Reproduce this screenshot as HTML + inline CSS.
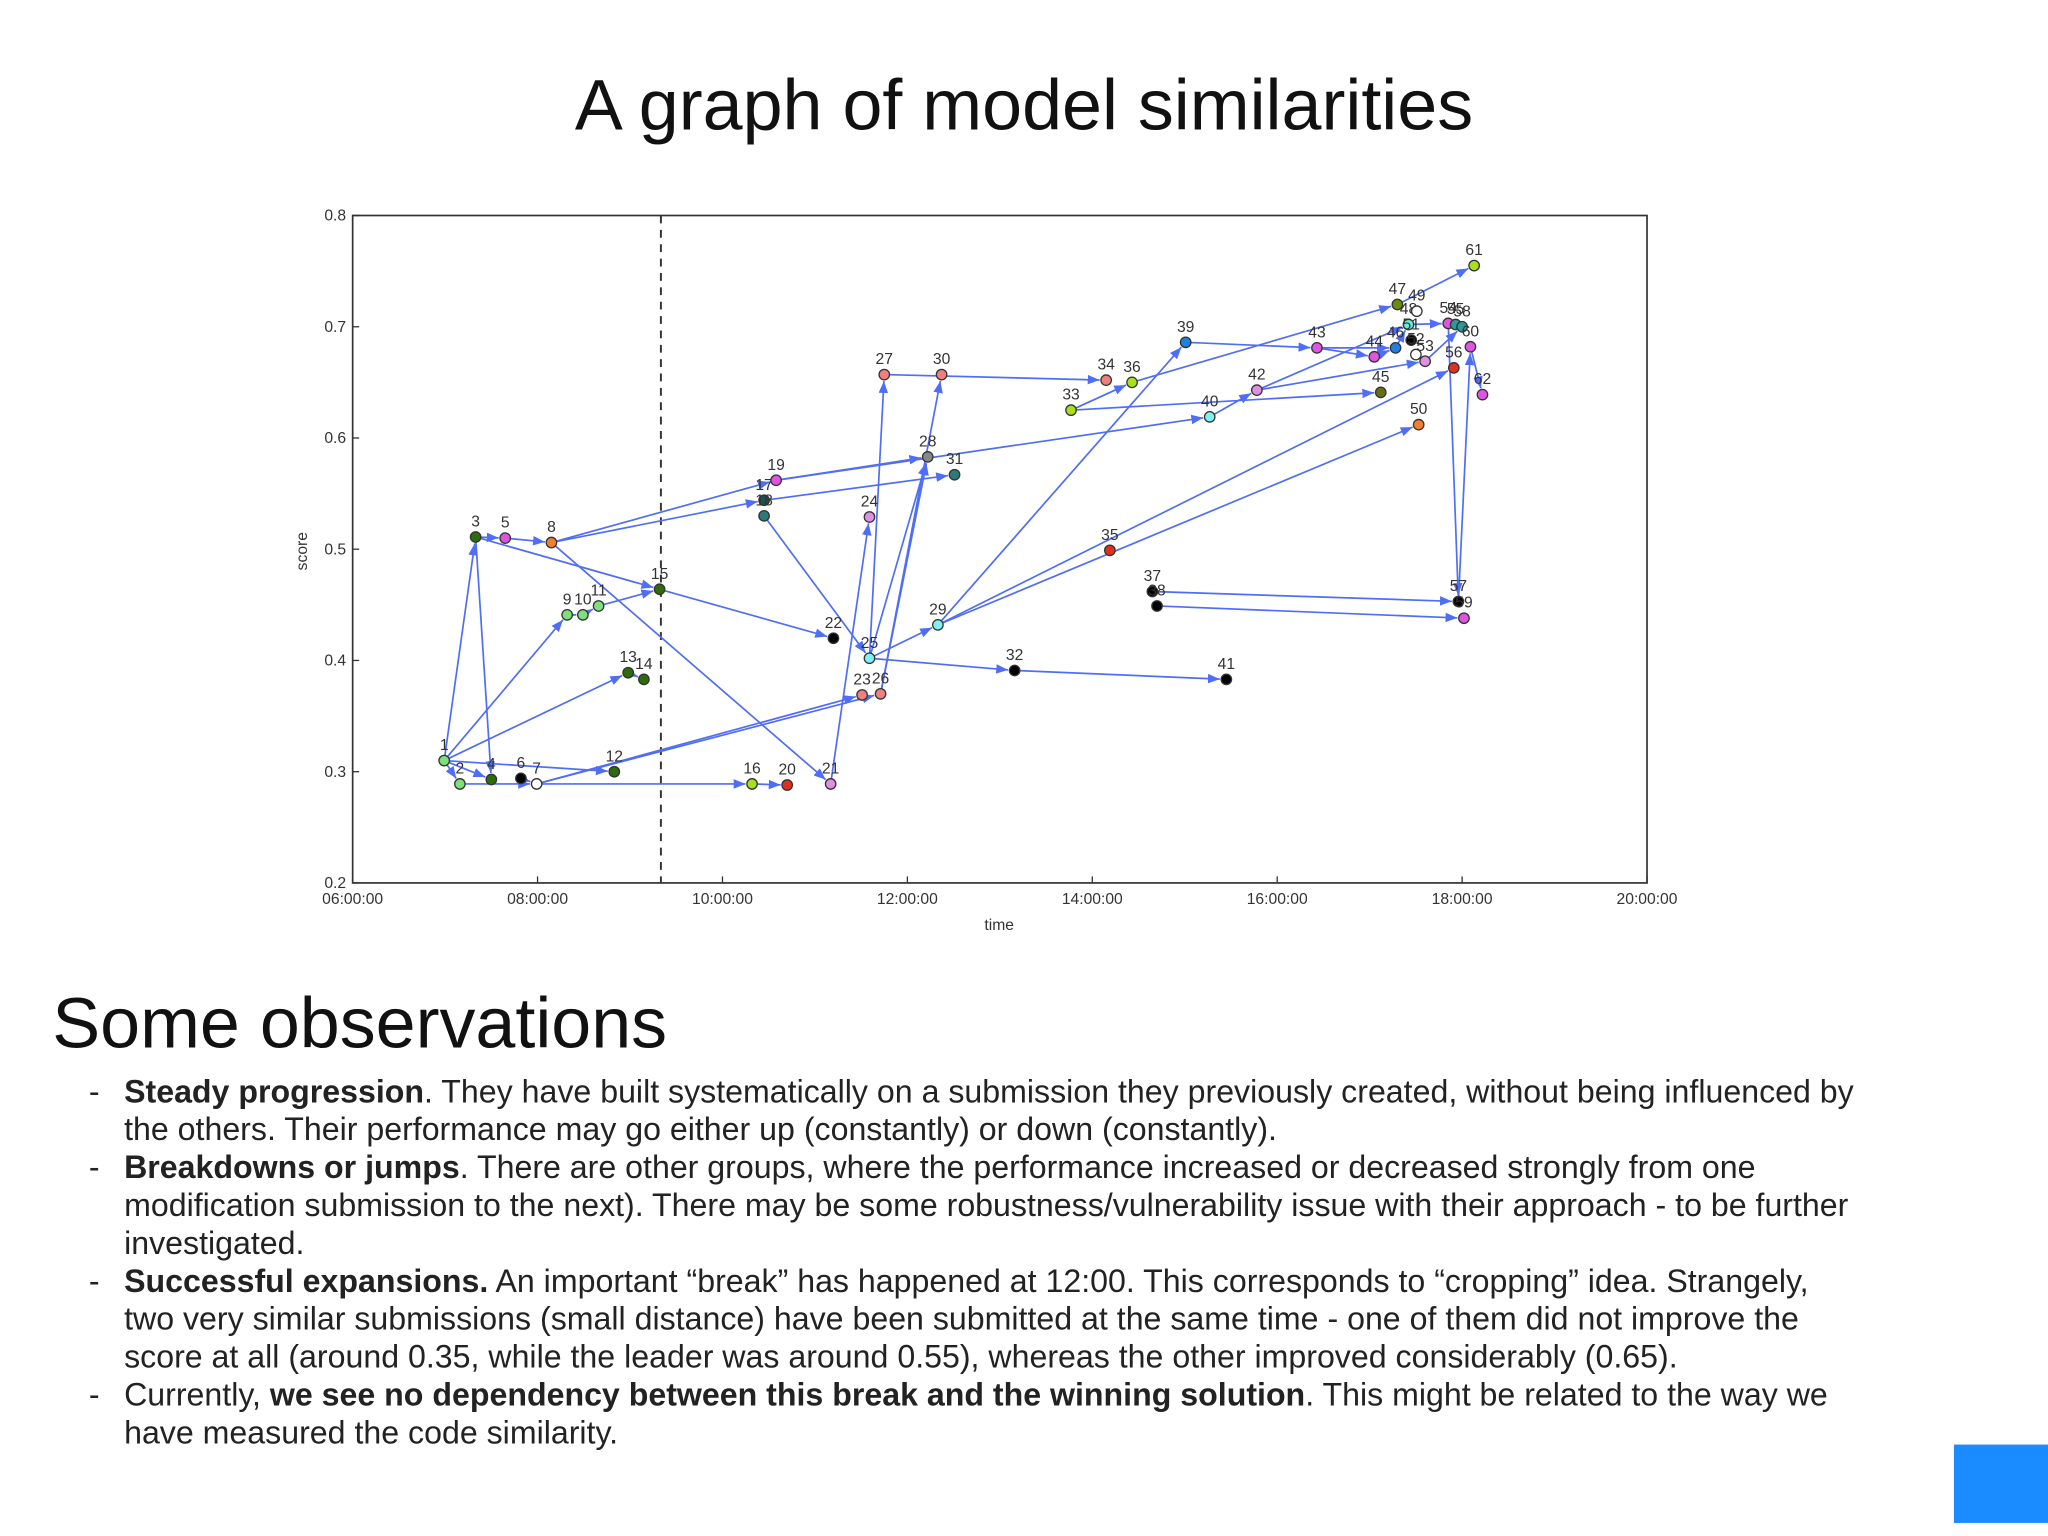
<!DOCTYPE html>
<html><head><meta charset="utf-8"><style>
html,body{margin:0;padding:0;background:#fff;}
svg{display:block;font-family:"Liberation Sans",sans-serif;}
</style></head><body>
<svg id="s" width="2048" height="1536" viewBox="0 0 1568 1176">
<defs><marker id="ah" viewBox="0 0 10 10" refX="10" refY="5" markerWidth="7" markerHeight="7" orient="auto"><path d="M0,1 L10,5 L0,9 z" fill="#4f6ef5"/></marker></defs>
<text x="784" y="99" font-size="55" text-anchor="middle" fill="#111">A graph of model similarities</text>
<rect x="270" y="165" width="991" height="511" fill="#fff" stroke="#333" stroke-width="1.3"/>
<g id="ticks"></g>
<line x1="506" y1="165" x2="506" y2="676" stroke="#333" stroke-width="1.5" stroke-dasharray="6,5"/>
<g id="edges"></g>
<g id="pts"></g>
<text x="765" y="712" font-size="12" text-anchor="middle" fill="#333">time</text>
<text transform="translate(235,422) rotate(-90)" font-size="12" text-anchor="middle" fill="#333">score</text>
<text x="40" y="802" font-size="55" fill="#111">Some observations</text>
<g font-size="24.6" fill="#222">
<text x="68" y="844">-</text><text x="95" y="844"><tspan font-weight="bold">Steady progression</tspan>. They have built systematically on a submission they previously created, without being influenced by</text>
<text x="95" y="873">the others. Their performance may go either up (constantly) or down (constantly).</text>
<text x="68" y="902">-</text><text x="95" y="902"><tspan font-weight="bold">Breakdowns or jumps</tspan>. There are other groups, where the performance increased or decreased strongly from one</text>
<text x="95" y="931">modification submission to the next). There may be some robustness/vulnerability issue with their approach - to be further</text>
<text x="95" y="960">investigated.</text>
<text x="68" y="989">-</text><text x="95" y="989"><tspan font-weight="bold">Successful expansions.</tspan> An important “break” has happened at 12:00. This corresponds to “cropping” idea. Strangely,</text>
<text x="95" y="1018">two very similar submissions (small distance) have been submitted at the same time - one of them did not improve the</text>
<text x="95" y="1047">score at all (around 0.35, while the leader was around 0.55), whereas the other improved considerably (0.65).</text>
<text x="68" y="1076">-</text><text x="95" y="1076">Currently, <tspan font-weight="bold">we see no dependency between this break and the winning solution</tspan>. This might be related to the way we</text>
<text x="95" y="1105">have measured the code similarity.</text>
</g>
<rect x="1496" y="1106" width="72" height="60" fill="#1a8cff"/>
</svg>
<script>
const ids=[1,2,3,4,5,6,7,8,9,10,11,12,13,14,15,16,17,18,19,20,21,22,23,24,25,26,27,28,29,30,31,32,33,34,35,36,37,38,39,40,41,42,43,44,45,46,47,48,49,50,51,52,53,54,55,56,57,58,59,60,61,62];
const times=[6.99,7.16,7.33,7.50,7.65,7.82,7.99,8.15,8.32,8.49,8.66,8.83,8.98,9.15,9.32,10.32,10.45,10.45,10.58,10.70,11.17,11.20,11.51,11.59,11.59,11.71,11.75,12.22,12.33,12.37,12.51,13.16,13.77,14.15,14.19,14.43,14.65,14.70,15.01,15.27,15.45,15.78,16.43,17.05,17.12,17.28,17.30,17.42,17.51,17.53,17.45,17.50,17.60,17.85,17.93,17.91,17.96,18.00,18.02,18.09,18.13,18.22];
const scores=[0.310,0.289,0.511,0.293,0.510,0.294,0.289,0.506,0.441,0.441,0.449,0.300,0.389,0.383,0.464,0.289,0.544,0.530,0.562,0.288,0.289,0.420,0.369,0.529,0.402,0.370,0.657,0.583,0.432,0.657,0.567,0.391,0.625,0.652,0.499,0.650,0.462,0.449,0.686,0.619,0.383,0.643,0.681,0.673,0.641,0.681,0.720,0.702,0.714,0.612,0.688,0.675,0.669,0.703,0.702,0.663,0.453,0.700,0.438,0.682,0.755,0.639];
const colors=["#7de07d","#7de07d","#2e6b0e","#2e6b0e","#d955d9","#000","#fff","#f08030","#7de07d","#7de07d","#7de07d","#2e6b0e","#2e6b0e","#2e6b0e","#2e6b0e","#a8e020","#1d5050","#2d7a7a","#e055e0","#e03020","#e090e0","#000","#f08080","#e090e0","#80f0f0","#f08080","#f08080","#888","#80f0f0","#f08080","#2d7a7a","#000","#a8e020","#f08080","#e03020","#a8e020","#000","#000","#2080e0","#80f0f0","#000","#e090e0","#e055e0","#e055e0","#6b6b1a","#2080e0","#6b8a10","#60f0e0","#fff","#f08030","#000","#fff","#e090e0","#e055e0","#2d9a9a","#e03020","#000","#2d9a9a","#e055e0","#e055e0","#a8e020","#e055e0"];
const edgeFrom=[1,1,1,1,1,1,3,3,3,5,2,6,7,7,7,9,10,11,13,15,8,8,8,16,21,18,25,25,25,26,26,25,32,17,19,19,27,33,33,36,29,39,43,43,29,29,40,42,42,37,47,48,54,57,60,44,46,53,38];
const edgeTo=[2,3,4,9,13,12,4,5,15,8,7,7,16,23,26,10,11,15,14,22,17,19,21,20,24,25,27,28,29,30,28,32,41,31,28,40,34,36,45,47,39,43,46,44,50,56,42,48,53,57,61,54,57,60,62,46,48,58,59];
const xTicks=[6,8,10,12,14,16,18,20];
const yTicks=[0.2,0.3,0.4,0.5,0.6,0.7,0.8];
const X=h=>270+(h-6)*(991/14);
const Y=v=>676-(v-0.2)*(511/0.6);
const NS="http://www.w3.org/2000/svg";
const mk=(t,a,p)=>{const e=document.createElementNS(NS,t);for(const k in a)e.setAttribute(k,a[k]);p.appendChild(e);return e;};
const tg=document.getElementById('ticks');
xTicks.forEach(h=>{
 const l=mk('line',{x1:X(h),x2:X(h),y1:676,y2:671,stroke:'#333'},tg);
 
 
 const t=mk('text',{x:X(h),y:692,'font-size':12,'text-anchor':'middle',fill:'#333'},tg);
 t.textContent=String(h).padStart(2,'0')+':00:00';
 
 
});
yTicks.forEach(v=>{
 const l=mk('line',{x1:270,x2:275,y1:Y(v),y2:Y(v),stroke:'#333'},tg);
 
 
 const t=mk('text',{x:265,y:Y(v)+4,'font-size':12,'text-anchor':'end',fill:'#333'},tg);
 t.textContent=v.toFixed(1);
 
 
});
const eg=document.getElementById('edges');
edgeFrom.forEach((f,i)=>{
 const a=ids.indexOf(f),b=ids.indexOf(edgeTo[i]);
 const x1=X(times[a]),y1=Y(scores[a]),x2=X(times[b]),y2=Y(scores[b]);
 const d=Math.hypot(x2-x1,y2-y1)||1;
 const e=mk('line',{x1:x1,y1:y1,x2:x2-(x2-x1)/d*5,y2:y2-(y2-y1)/d*5,stroke:'#4f6ef5','stroke-width':1.3,'marker-end':'url(#ah)'},eg);
 
 
});
const pg=document.getElementById('pts');
ids.forEach((id,i)=>{
 const c=mk('circle',{cx:X(times[i]),cy:Y(scores[i]),r:4,fill:colors[i],stroke:'#333','stroke-width':1},pg);
 
 
 const t=mk('text',{x:X(times[i]),y:Y(scores[i])-8,'font-size':12,'text-anchor':'middle',fill:'#333'},pg);
 t.textContent=id;
 
 
});
</script>
</body></html>
